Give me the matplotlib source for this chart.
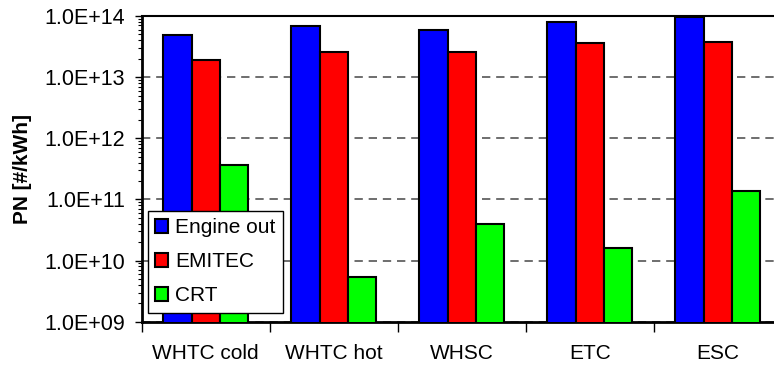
import numpy as np
from matplotlib import pyplot as plt
from matplotlib.ticker import LogLocator, FixedLocator, NullFormatter

plt.rcParams['font.family'] = ['Liberation Sans', 'DejaVu Sans']

# test cycles and particle numbers
cycles = ['WHTC cold', 'WHTC hot', 'WHSC', 'ETC', 'ESC']
engine_out = [4.9e13, 6.9e13, 6.0e13, 8.0e13, 9.5e13]
emitec = [1.9e13, 2.6e13, 2.6e13, 3.6e13, 3.8e13]
crt = [3.7e11, 5.4e9, 3.9e10, 1.6e10, 1.36e11]

fig = plt.figure(figsize=(7.74, 3.67), dpi=100)
# plot area runs past the right edge of the picture, as in the original
ax = fig.add_axes([0.1831, 0.1234, 0.8269, 0.833])

x = np.arange(len(cycles))
w = 0.221
ax.bar(x - w, engine_out, w, color='#0000ff', edgecolor='black', linewidth=1.5, label='Engine out', zorder=3)
ax.bar(x, emitec, w, color='#ff0000', edgecolor='black', linewidth=1.5, label='EMITEC', zorder=3)
ax.bar(x + w, crt, w, color='#00ff00', edgecolor='black', linewidth=1.5, label='CRT', zorder=3)

ax.set_yscale('log')
ax.set_ylim(1e9, 1e14)
ax.set_xlim(-0.5, 4.5)
ax.set_yticks([1e9, 1e10, 1e11, 1e12, 1e13, 1e14])
ax.set_yticklabels(['1.0E+09', '1.0E+10', '1.0E+11', '1.0E+12', '1.0E+13', '1.0E+14'])
ax.yaxis.set_minor_locator(LogLocator(base=10, subs=np.arange(2, 10)))
ax.yaxis.set_minor_formatter(NullFormatter())
ax.tick_params(axis='y', which='major', length=5, width=1, labelsize=15.5, pad=7)
ax.tick_params(axis='y', which='minor', length=3, width=0.8)

ax.set_xticks(x)
ax.set_xticklabels(cycles)
ax.xaxis.set_minor_locator(FixedLocator(np.arange(-0.5, 4.6, 1.0)))
ax.tick_params(axis='x', which='major', length=0, labelsize=15, pad=16)
ax.tick_params(axis='x', which='minor', length=7, width=1)

ax.grid(axis='y', which='major', linestyle=(0, (5, 3.5)), color='#555555', linewidth=1.2, zorder=0)

ax.spines['right'].set_visible(False)
for s in ['left', 'bottom']:
    ax.spines[s].set_linewidth(2)
ax.spines['top'].set_linewidth(1.5)

ax.set_ylabel('PN [#/kWh]', fontsize=15, fontweight='bold', labelpad=9)

leg = ax.legend(loc='lower left', bbox_to_anchor=(0.01, 0.03), fontsize=15, fancybox=False,
                framealpha=1, edgecolor='black', handlelength=0.6, handleheight=0.65,
                handletextpad=0.35, borderpad=0.35, labelspacing=0.72, borderaxespad=0)
leg.get_frame().set_linewidth(1)
leg.set_zorder(5)

plt.savefig('out.png')
